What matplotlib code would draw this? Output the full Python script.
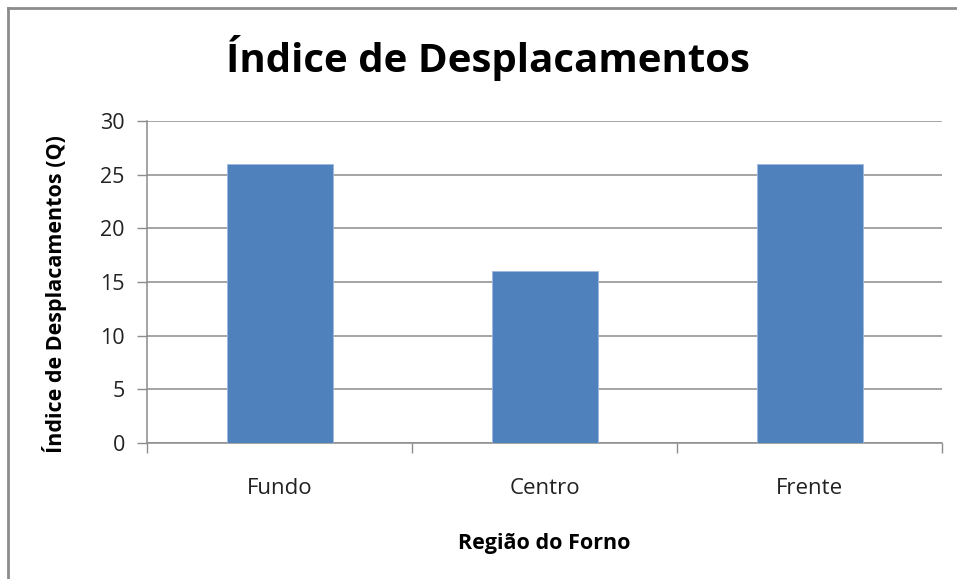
import numpy as np
import matplotlib.pyplot as plt
from matplotlib.lines import Line2D

# Forno: índice de deslocamentos por região
regioes = ['Fundo', 'Centro', 'Frente']
indices = [26, 16, 26]
yticks = [0, 5, 10, 15, 20, 25, 30]

W, H = 957, 579
fig = plt.figure(figsize=(W / 100, H / 100), dpi=100)
plt.rcParams['font.family'] = ['Open Sans', 'DejaVu Sans']

# plot area in pixels: left 147, right 942, top 121, bottom 443
ax = fig.add_axes([147 / W, 1 - 443 / H, (942 - 147) / W, (443 - 121) / H])

x = np.arange(len(regioes))
ax.bar(x, indices, width=0.4, color='#4F81BD', edgecolor='#9DB9DE', linewidth=0.6, zorder=3)

ax.set_xlim(-0.5, len(regioes) - 0.5)
ax.set_ylim(0, 30)
ax.set_yticks(yticks)
ax.set_yticklabels([str(v) for v in yticks], fontsize=15.5, color='#222222')
ax.yaxis.grid(True, color='#8C8C8C', linewidth=1.1, zorder=0)
ax.tick_params(axis='y', length=7, width=1, color='#8C8C8C', pad=9)

# category labels centred under bars, separator ticks between categories
ax.set_xticks(np.arange(-0.5, len(regioes), 1.0))
ax.set_xticklabels([])
ax.tick_params(axis='x', length=7, width=1, color='#8C8C8C')
ax.set_xticks(x, minor=True)
ax.set_xticklabels(regioes, minor=True, fontsize=16, color='#222222')
ax.tick_params(axis='x', which='minor', length=0, pad=25)

for side in ['top', 'right']:
    ax.spines[side].set_visible(False)
ax.spines['left'].set_color('#8C8C8C')
ax.spines['bottom'].set_color('#8C8C8C')
ax.spines['left'].set_linewidth(1.1)
ax.spines['bottom'].set_linewidth(1.1)

ax.set_xlabel('Região do Forno', fontsize=15.5, fontweight='bold', labelpad=25)
ax.set_ylabel('Índice de Desplacamentos (Q)', fontsize=15.5, fontweight='bold')
ax.yaxis.set_label_coords(-0.101, 0.463)

fig.text(488 / W, 1 - 58 / H, 'Índice de Desplacamentos', ha='center', va='center',
         fontsize=29, fontweight='bold', color='black')

# outer frame (top and left edges only)
fig.add_artist(Line2D([8 / W, 1], [1 - 8 / H, 1 - 8 / H], transform=fig.transFigure,
                      color='#8C8C8C', linewidth=2))
fig.add_artist(Line2D([8 / W, 8 / W], [0, 1 - 8 / H], transform=fig.transFigure,
                      color='#8C8C8C', linewidth=2))

fig.savefig('out.png', dpi=100)
